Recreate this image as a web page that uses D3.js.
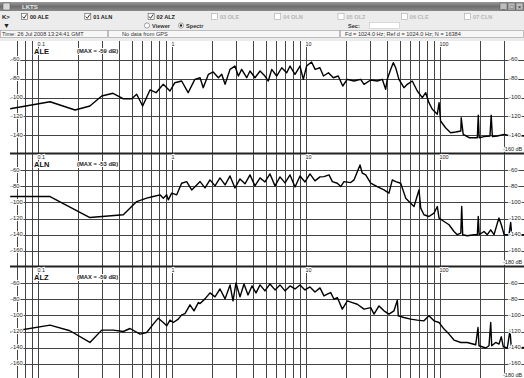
<!DOCTYPE html>
<html>
<head>
<meta charset="utf-8">
<script src="https://cdn.jsdelivr.net/npm/d3@7"></script>
<style>
  body { margin: 0; background: #fff; }
  svg { display: block; font-family: "Liberation Sans", Arial, sans-serif; }
</style>
</head>
<body>
<svg id="chart" width="524" height="378"></svg>
<script>
// ---- data ----
const channels = ['ALE', 'ALN', 'ALZ'];
const maxDb = [-59, -53, -59];
const dbFloor = [-160, -180, -180];
const dbTop = -40;
const dbTicks = [
  [-60, -80, -100, -120, -140],
  [-60, -80, -100, -120, -140, -160],
  [-60, -80, -100, -120, -140, -160]
];
const decadeLabels = [0.1, 1, 10, 100];
const checkNames = ['00 ALE', '01 ALN', '02 ALZ', '03 OLE', '04 OLN', '05 OLZ', '06 CLE', '07 CLN'];
const checked = [true, true, true, false, false, false, false, false];

// [frequency Hz, level dB]
const aleSpectrum = [
  [0.062,-111.9],[0.123,-104.5],[0.189,-113.3],[0.244,-109],[0.299,-98.4],[0.363,-95.5],[0.431,-101.3],
  [0.500,-101.3],[0.545,-96.6],[0.604,-109],[0.685,-92],[0.760,-94.9],[0.861,-86],[0.966,-93.1],
  [1.05,-84.3],[1.18,-82.5],[1.32,-94.9],[1.48,-80.7],[1.62,-79],[1.71,-89.6],[1.87,-75.4],[2.03,-72.9],
  [2.22,-79],[2.35,-75.4],[2.49,-86],[2.71,-70.1],[2.95,-66.6],[3.13,-77.2],[3.31,-70.1],[3.61,-79],
  [3.82,-71.9],[4.16,-79],[4.54,-71.9],[4.94,-77.2],[5.23,-82.5],[5.55,-70.1],[6.04,-77.2],[6.59,-68.4],
  [7.18,-73.7],[7.60,-66.6],[8.28,-75.4],[9.02,-66.6],[9.55,-80.7],[10.1,-66.6],[11.0,-62.3],[11.7,-70.1],
  [12.7,-68.4],[13.5,-77.2],[14.7,-73.7],[16.0,-79],[17.4,-77.2],[18.8,-87.8],[20.3,-80.7],[22.8,-82.5],
  [25.6,-80.7],[27.1,-86],[30.4,-81.4],[34.0,-82.5],[37.1,-80.7],[39.3,-91.3],[40.4,-80.7],[42.9,-70.1],
  [44.8,-63],[46.7,-68.4],[49.4,-80.7],[53.8,-89.6],[57.0,-86],[62.1,-82.5],[67.7,-93.1],[73.8,-100.2],
  [78.2,-94.9],[82.7,-105.5],[87.6,-112.5],[95.5,-117.8],[98.4,-105.5],[101,-125],[110,-132.1],[120,-137.4],
  [131,-136.6],[143,-135.6],[144,-121.5],[149,-139.1],[165,-142.7],[190,-142.7],[193,-118.9],[196,-142.7],
  [213,-141.6],[236,-140.9],[241,-118.9],[246,-141.6],[268,-140.9],[301,-139.1],[337,-140.9],[378,-140.1],
  [424,-140.9]
];
const alnSpectrum = [
  [0.062,-92.7],[0.123,-92.7],[0.244,-118.7],[0.433,-115.3],[0.545,-98.9],[0.647,-94.7],[0.725,-92.7],
  [0.814,-90.6],[0.861,-94.7],[0.913,-90.6],[0.938,-96.8],[0.995,-88.5],[1.084,-90.6],[1.18,-76.2],
  [1.287,-74.2],[1.403,-84.5],[1.529,-78.3],[1.62,-74.2],[1.763,-82],[1.921,-72.1],[2.094,-79.5],
  [2.281,-69.6],[2.49,-78.3],[2.71,-67.2],[2.95,-82],[3.218,-70.9],[3.506,-77],[3.82,-65.9],[4.16,-79.5],
  [4.54,-69.6],[4.94,-74.6],[5.386,-64.7],[5.871,-79.5],[6.397,-68.4],[6.971,-75.8],[7.60,-65.9],
  [8.28,-80.8],[9.02,-67.2],[9.83,-74.6],[10.71,-64.7],[11.67,-73.3],[12.72,-68.4],[13.62,-68],
  [14.85,-65.9],[15.72,-74.2],[17.13,-76.2],[18.16,-80.4],[19.21,-74.2],[21.56,-75.4],[22.81,-72.1],
  [24.15,-61.9],[25.29,-53.6],[26.32,-63.8],[27.9,-65.9],[30.4,-76.2],[34.0,-80.4],[38.2,-84.5],
  [41.6,-88.5],[44.07,-72.1],[46.7,-74.2],[50.9,-76.2],[55.5,-94.7],[60.4,-100.9],[64.0,-105.1],
  [69.7,-84.5],[71.8,-107.1],[75.9,-115.3],[82.7,-117.4],[90.2,-113.2],[95.5,-105.1],[98.4,-119.4],
  [107.2,-123.6],[116.8,-127.7],[127.2,-136],[134.6,-140],[143,-137.9],[145.2,-105.1],[147.7,-140],
  [159.8,-141.3],[179.4,-140],[190,-140],[193,-117.4],[196,-140],[213,-136],[225.4,-140],[239,-133.9],
  [253,-140],[268,-125.6],[275.6,-119.4],[286.8,-127.7],[301,-140],[327.3,-140],[337,-124.8],
  [342.8,-140],[378,-140],[424,-140]
];
const alzSpectrum = [
  [0.062,-120.3],[0.123,-112],[0.173,-119],[0.244,-133.5],[0.299,-118.2],[0.365,-118.2],[0.433,-119.9],
  [0.486,-116.2],[0.577,-123.1],[0.647,-121.1],[0.725,-110.8],[0.790,-103.4],[0.861,-108.8],[0.913,-112.9],
  [0.966,-105.8],[1.022,-108.8],[1.114,-104.6],[1.18,-99.3],[1.25,-97.7],[1.362,-86.9],[1.46,-94.3],
  [1.572,-84.1],[1.62,-85.3],[1.763,-79.5],[1.921,-72.1],[2.094,-77],[2.281,-67.2],[2.49,-79.5],
  [2.71,-62.2],[2.852,-82],[3.003,-59.8],[3.218,-77],[3.446,-61],[3.692,-74.6],[3.954,-63.5],[4.236,-72.1],
  [4.54,-62.2],[4.94,-69.6],[5.386,-61],[5.871,-68.4],[6.397,-62.2],[6.971,-69.6],[7.60,-63.5],[8.28,-67.2],
  [9.02,-62.2],[9.83,-68.4],[10.71,-64.7],[11.67,-70.9],[12.72,-65.9],[13.62,-75.8],[14.42,-73.7],
  [15.29,-71.7],[16.18,-79.9],[17.13,-77.9],[18.66,-92.2],[20.34,-82],[22.16,-84.1],[24.15,-86.1],
  [27.1,-92.2],[30.4,-90.3],[32.18,-98.4],[35.06,-88.2],[38.2,-94.3],[41.6,-98.4],[45.36,-94.3],
  [48.03,-81.1],[48.86,-100.5],[53.8,-102.6],[60.4,-104.6],[67.7,-105.8],[75.9,-106.7],[82.7,-100.5],
  [90.2,-106.7],[98.4,-108.8],[107.2,-116.9],[116.8,-123.1],[127.2,-130.5],[143,-133.5],[159.8,-133.5],
  [184.7,-136.3],[192.1,-115],[195.5,-137.6],[219.3,-140.4],[232.1,-137.6],[239,-108.8],[243.1,-137.6],
  [260.4,-133.5],[275.6,-135.5],[286.8,-126.5],[296.8,-138.8],[317.9,-140.4],[333,-118.2],[340.6,-140.4],
  [378,-140.4],[424,-139.7]
];
const spectra = [aleSpectrum, alnSpectrum, alzSpectrum];

// ---- layout ----
const W = 524, H = 378;
const plotLeft = 10, plotRight = 524;
const panelBoxes = [
  { top: 41, bottom: 154 },
  { top: 154, bottom: 267 },
  { top: 267, bottom: 380 }
];

const svg = d3.select('#chart');

// frequency scale shared by all panels
const x = d3.scaleLog().domain([0.1, 100]).range([38, 440]);
const gridFreqs = d3.scaleLog().domain([0.07, 300]).ticks();

// ---- window header ----
const header = svg.append('g');
header.append('rect').attr('x', 0).attr('y', 0).attr('width', W).attr('height', 41).attr('fill', '#ececec');

const grad = svg.append('defs').append('linearGradient').attr('id', 'titleGrad')
  .attr('x1', 0).attr('x2', 0).attr('y1', 0).attr('y2', 1);
grad.append('stop').attr('offset', '0%').attr('stop-color', '#9a9a9a');
grad.append('stop').attr('offset', '50%').attr('stop-color', '#6e6e6e');
grad.append('stop').attr('offset', '100%').attr('stop-color', '#8a8a8a');

header.append('rect').attr('x', 0).attr('y', 0).attr('width', W).attr('height', 2).attr('fill', '#fff');
header.append('rect').attr('x', 0).attr('y', 2).attr('width', W).attr('height', 9).attr('fill', 'url(#titleGrad)');
header.append('rect').attr('x', 3).attr('y', 3).attr('width', 7).attr('height', 7).attr('fill', '#d8d8d8').attr('stroke', '#555').attr('stroke-width', 0.5);
header.append('text').attr('x', 22).attr('y', 9).attr('font-size', 6).attr('fill', '#e8e8e8').attr('font-weight', 'bold').text('LKTS');
['_', '□', '×'].forEach((s, i) => {
  header.append('rect').attr('x', 500 + i * 8).attr('y', 3).attr('width', 7).attr('height', 7)
    .attr('fill', '#bdbdbd').attr('stroke', '#555').attr('stroke-width', 0.5);
  header.append('text').attr('x', 503.5 + i * 8).attr('y', 9).attr('font-size', 6)
    .attr('text-anchor', 'middle').attr('fill', '#222').text(s);
});

// checkbox row
header.append('text').attr('x', 2).attr('y', 19).attr('font-size', 6).attr('font-weight', 'bold').attr('fill', '#222').text('K>');
header.append('text').attr('x', 3).attr('y', 28).attr('font-size', 7).attr('fill', '#222').text('▼');
checkNames.forEach((name, i) => {
  const cx = 21.5 + i * 63.3;
  header.append('rect').attr('x', cx).attr('y', 13.5).attr('width', 6).attr('height', 6)
    .attr('fill', '#fff').attr('stroke', checked[i] ? '#555' : '#aaa').attr('stroke-width', 0.6);
  if (checked[i]) {
    header.append('path').attr('d', `M${cx + 1},${16.5} L${cx + 2.5},${18.3} L${cx + 5},${14.5}`)
      .attr('fill', 'none').attr('stroke', '#222').attr('stroke-width', 0.9);
  }
  header.append('text').attr('x', cx + 8.5).attr('y', 19).attr('font-size', 5.6).attr('font-weight', 'bold')
    .attr('fill', checked[i] ? '#222' : '#b5b5b5').text(name);
});

// radio row
header.append('circle').attr('cx', 147).attr('cy', 25.5).attr('r', 2.6).attr('fill', '#fff').attr('stroke', '#666').attr('stroke-width', 0.6);
header.append('text').attr('x', 152).attr('y', 28).attr('font-size', 5.6).attr('font-weight', 'bold').attr('fill', '#333').text('Viewer');
header.append('circle').attr('cx', 181).attr('cy', 25.5).attr('r', 2.6).attr('fill', '#fff').attr('stroke', '#666').attr('stroke-width', 0.6);
header.append('circle').attr('cx', 181).attr('cy', 25.5).attr('r', 1.2).attr('fill', '#222');
header.append('text').attr('x', 186).attr('y', 28).attr('font-size', 5.6).attr('font-weight', 'bold').attr('fill', '#333').text('Spectr');
header.append('text').attr('x', 348).attr('y', 28).attr('font-size', 5.6).attr('font-weight', 'bold').attr('fill', '#333').text('Sec:');
header.append('rect').attr('x', 369.5).attr('y', 22.5).attr('width', 30).attr('height', 6).attr('fill', '#fff').attr('stroke', '#bbb').attr('stroke-width', 0.5);

// status row
const statusCells = [
  { x0: 0, x1: 108, text: 'Time: 26 Jul 2008 13:24:41 GMT', tx: 2 },
  { x0: 108, x1: 340, text: 'No data from GPS', tx: 122 },
  { x0: 340, x1: 524, text: 'Fd = 1024.0 Hz; Ref d = 1024.0 Hz; N = 16384', tx: 345 }
];
statusCells.forEach(c => {
  header.append('rect').attr('x', c.x0 + 0.5).attr('y', 30.5).attr('width', c.x1 - c.x0 - 1).attr('height', 7)
    .attr('fill', '#f7f7f7').attr('stroke', '#9a9a9a').attr('stroke-width', 0.6);
  header.append('text').attr('x', c.tx).attr('y', 36.3).attr('font-size', 5.6).attr('fill', '#333').text(c.text);
});

// ---- panels ----
const line = d3.line().x(d => x(d[0]));

panelBoxes.forEach((box, p) => {
  const y = d3.scaleLinear().domain([dbFloor[p], dbTop]).range([box.bottom, box.top]);
  const g = svg.append('g');

  g.append('clipPath').attr('id', `clip${p}`).append('rect')
    .attr('x', plotLeft).attr('y', box.top).attr('width', plotRight - plotLeft).attr('height', box.bottom - box.top);

  // horizontal grid
  g.selectAll('line.h').data(dbTicks[p]).enter().append('line')
    .attr('x1', plotLeft).attr('x2', plotRight)
    .attr('y1', d => Math.round(y(d)) + 0.5).attr('y2', d => Math.round(y(d)) + 0.5)
    .attr('stroke', '#444').attr('stroke-width', 1);

  // vertical grid
  g.selectAll('line.v').data(gridFreqs).enter().append('line')
    .attr('x1', d => Math.round(x(d)) + 0.5).attr('x2', d => Math.round(x(d)) + 0.5)
    .attr('y1', box.top).attr('y2', box.bottom)
    .attr('stroke', '#444').attr('stroke-width', 1);

  // spectrum
  g.append('path')
    .datum(spectra[p])
    .attr('clip-path', `url(#clip${p})`)
    .attr('d', line.y(d => y(d[1])))
    .attr('fill', 'none').attr('stroke', '#000').attr('stroke-width', 1.4)
    .attr('stroke-linejoin', 'round');

  // panel separator
  g.append('line').attr('x1', plotLeft).attr('x2', plotRight)
    .attr('y1', box.bottom - 0.5).attr('y2', box.bottom - 0.5)
    .attr('stroke', '#222').attr('stroke-width', 2);

  const halo = sel => sel.attr('stroke', '#fff').attr('stroke-width', 2).attr('paint-order', 'stroke');

  // dB labels on both sides
  g.selectAll('text.l').data(dbTicks[p]).enter().append('text')
    .attr('x', 11).attr('y', d => y(d) + 1.5).attr('font-size', 5.8).attr('fill', '#222')
    .call(halo).text(d => d);
  g.selectAll('text.r').data(dbTicks[p]).enter().append('text')
    .attr('x', 509).attr('y', d => y(d) + 1.5).attr('font-size', 5.8).attr('fill', '#222')
    .call(halo).text(d => d);
  g.append('text').attr('x', 503).attr('y', box.bottom - 3.5).attr('font-size', 5.5).attr('fill', '#222')
    .call(halo).text(`${dbFloor[p]} dB`);

  // decade labels
  g.selectAll('text.f').data(decadeLabels).enter().append('text')
    .attr('x', d => x(d) - 0.5).attr('y', box.top + 5).attr('font-size', 5.4).attr('fill', '#222')
    .call(halo).text(d => d);

  // channel name and max
  g.append('text').attr('x', 34).attr('y', box.top + 12.5).attr('font-size', 7.5).attr('font-weight', 'bold')
    .attr('fill', '#111').call(halo).text(channels[p]);
  g.append('text').attr('x', 77).attr('y', box.top + 12).attr('font-size', 5.8).attr('font-weight', 'bold')
    .attr('fill', '#222').call(halo).text(`(MAX = ${maxDb[p]} dB)`);
});
</script>
</body>
</html>
